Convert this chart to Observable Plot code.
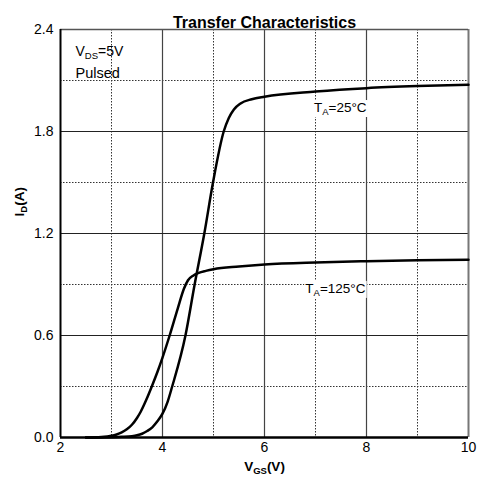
<!DOCTYPE html>
<html>
<head>
<meta charset="utf-8">
<script src="https://cdn.jsdelivr.net/npm/d3@7"></script>
<script src="https://cdn.jsdelivr.net/npm/@observablehq/plot@0.6"></script>
<style>
  html, body { margin: 0; padding: 0; background: #fff; }
  svg { display: block; }
</style>
</head>
<body>
<div id="chart"></div>
<script>
// ---- data ----
const vgs25 = [2.5, 3.0, 3.2, 3.4, 3.5, 3.6, 3.7, 3.8, 3.9, 4.0, 4.1, 4.19, 4.45, 4.63, 4.82, 4.99, 5.2, 5.3, 5.4, 5.53, 5.75, 6.0, 7.0, 8.0, 9.0, 10.0];
const id25  = [0, 0.002, 0.004, 0.008, 0.013, 0.022, 0.038, 0.06, 0.095, 0.14, 0.21, 0.3, 0.6, 0.9, 1.2, 1.5, 1.8, 1.88, 1.93, 1.965, 1.99, 2.005, 2.035, 2.055, 2.067, 2.075];
const vgs125 = [2.5, 2.8, 3.0, 3.1, 3.2, 3.3, 3.4, 3.5, 3.57, 3.68, 3.79, 3.9, 4.0, 4.14, 4.3, 4.42, 4.5, 4.6, 4.71, 4.85, 5.0, 5.5, 6.0, 7.0, 8.0, 9.0, 10.0];
const id125  = [0, 0.003, 0.01, 0.018, 0.03, 0.048, 0.075, 0.115, 0.15, 0.22, 0.3, 0.385, 0.47, 0.6, 0.76, 0.875, 0.925, 0.952, 0.968, 0.98, 0.99, 1.006, 1.018, 1.03, 1.037, 1.042, 1.045];

const xTicks = [2, 4, 6, 8, 10];
const yTicks = [0, 0.6, 1.2, 1.8, 2.4];
const xMinor = [3, 5, 7, 9];
const yMinor = [0.3, 0.9, 1.5, 2.1];
const xMajorInner = [4, 6, 8];
const yMajorInner = [0.6, 1.2, 1.8];

const label25 = "TA=25°C";
const label125 = "TA=125°C";
const curveLabels = [
  {x: 6.97, y: 1.94, text: label25},
  {x: 6.80, y: 0.876, text: label125}
];

// texts that get a subscript: [full text, [main, sub, rest]]
const subTexts = [
  [label25, ["T", "A", "=25°C"]],
  [label125, ["T", "A", "=125°C"]],
  ["VDS=5V", ["V", "DS", "=5V"]],
  ["ID(A)", ["I", "D", "(A)"]],
  ["VGS(V)", ["V", "GS", "(V)"]]
];

const s25 = vgs25.map((v, i) => ({v, i: id25[i]}));
const s125 = vgs125.map((v, i) => ({v, i: id125[i]}));

const font = "'Liberation Sans', Arial, Helvetica, sans-serif";

const plot = Plot.plot({
  width: 478,
  height: 488,
  marginLeft: 60,
  marginRight: 10,
  marginTop: 29,
  marginBottom: 51,
  style: {fontFamily: font, fontSize: "14px", color: "#000", background: "#fff"},
  x: {domain: [2, 10], ticks: xTicks, tickSize: 0, tickPadding: 5, label: null},
  y: {domain: [0, 2.4], ticks: yTicks, tickSize: 0, tickPadding: 7, tickFormat: d3.format(".1f"), label: null},
  marks: [
    Plot.ruleX(xMinor, {stroke: "#333", strokeWidth: 1, strokeDasharray: "1.5,1.5"}),
    Plot.ruleY(yMinor, {stroke: "#333", strokeWidth: 1, strokeDasharray: "1.5,1.5"}),
    Plot.ruleX(xMajorInner, {stroke: "#444", strokeWidth: 1.2}),
    Plot.ruleY(yMajorInner, {stroke: "#222", strokeWidth: 1.2}),
    Plot.ruleX([10], {stroke: "#777", strokeWidth: 2}),
    Plot.ruleY([2.4], {stroke: "#555", strokeWidth: 1.5}),
    Plot.ruleX([2], {stroke: "#000", strokeWidth: 2}),
    Plot.ruleY([0], {stroke: "#000", strokeWidth: 2.5}),
    Plot.line(s25, {x: "v", y: "i", curve: "monotone-x", stroke: "#000", strokeWidth: 2.5}),
    Plot.line(s125, {x: "v", y: "i", curve: "monotone-x", stroke: "#000", strokeWidth: 2.5}),
    Plot.text(curveLabels, {x: "x", y: "y", text: "text", textAnchor: "start", fontSize: 13.5, fill: "#000"}),
    Plot.text(["VDS=5V"], {frameAnchor: "top-left", dx: 15, dy: 17, textAnchor: "start", fontSize: 14}),
    Plot.text(["Pulsed"], {frameAnchor: "top-left", dx: 15, dy: 38.5, textAnchor: "start", fontSize: 14.5}),
    Plot.text(["Transfer Characteristics"], {frameAnchor: "top", dy: -13, fontWeight: "bold", fontSize: 16}),
    Plot.text(["ID(A)"], {frameAnchor: "left", dx: -41, dy: -17, rotate: -90, fontWeight: "bold", fontSize: 13.5}),
    Plot.text(["VGS(V)"], {frameAnchor: "bottom", dy: 33, fontWeight: "bold", fontSize: 13.5})
  ]
});

document.getElementById("chart").appendChild(plot);

const svgNS = "http://www.w3.org/2000/svg";
const allTexts = Array.from(plot.querySelectorAll("text"));
allTexts.forEach(el => {
  const content = el.textContent;
  const match = subTexts.find(s => s[0] === content);
  if (!match) return;
  const [main, sub, rest] = match[1];
  while (el.firstChild) el.removeChild(el.firstChild);
  const t1 = document.createElementNS(svgNS, "tspan");
  t1.textContent = main;
  const t2 = document.createElementNS(svgNS, "tspan");
  t2.textContent = sub;
  t2.setAttribute("dy", "3");
  t2.setAttribute("font-size", "9.5");
  const t3 = document.createElementNS(svgNS, "tspan");
  t3.textContent = rest;
  t3.setAttribute("dy", "-3");
  el.appendChild(t1); el.appendChild(t2); el.appendChild(t3);
  // white box behind the curve labels
  if (content === label25 || content === label125) {
    const b = el.getBBox();
    const r = document.createElementNS(svgNS, "rect");
    r.setAttribute("x", b.x - 1);
    r.setAttribute("y", b.y);
    r.setAttribute("width", b.width + 2);
    r.setAttribute("height", b.height);
    r.setAttribute("fill", "#fff");
    const tr = el.getAttribute("transform");
    if (tr) r.setAttribute("transform", tr);
    el.parentNode.insertBefore(r, el);
  }
});
</script>
</body>
</html>
